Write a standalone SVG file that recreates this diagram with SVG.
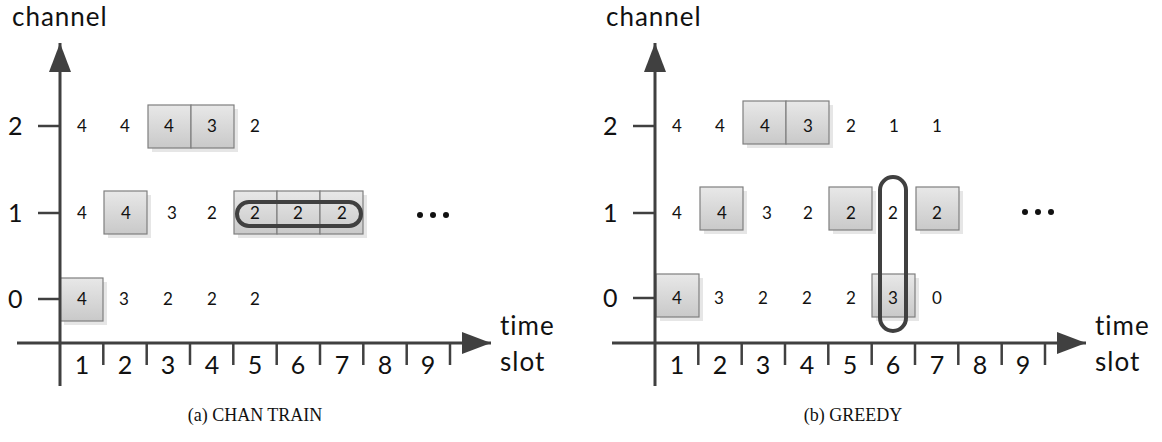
<svg xmlns="http://www.w3.org/2000/svg" width="1162" height="442" viewBox="0 0 1162 442">
<defs>
<linearGradient id="cellg" x1="0" y1="0" x2="0" y2="1">
<stop offset="0" stop-color="#e8e8e8"/>
<stop offset="1" stop-color="#c9c9c9"/>
</linearGradient>
<marker id="arr" markerUnits="userSpaceOnUse" markerWidth="30" markerHeight="22" viewBox="0 0 30 22" refX="29" refY="11" orient="auto">
<path d="M0,0 L29,11 L0,22 Z" fill="#404040"/>
</marker>
<g id="cell">
<rect x="4" y="4" width="43" height="43" fill="#e6e6e6"/>
<rect x="0" y="0" width="43" height="43" fill="url(#cellg)" stroke="#7f7f7f" stroke-width="1.2"/>
</g>
</defs>
<style>
.ax{stroke:#404040;stroke-width:3;fill:none}
.tk{stroke:#404040;stroke-width:2.5;fill:none}
.lab{font-family:Lato,"Liberation Sans",sans-serif;font-size:25px;fill:#111}
.word{font-family:Lato,"Liberation Sans",sans-serif;font-size:26px;letter-spacing:1px;fill:#111}
.tl{font-family:Lato,"Liberation Sans",sans-serif;font-size:25px;fill:#111;text-anchor:middle}
.n{font-family:Lato,"Liberation Sans",sans-serif;font-size:17px;fill:#111;text-anchor:middle}
.cap{font-family:"Liberation Serif","DejaVu Serif",serif;font-size:18px;fill:#111;text-anchor:middle}
.pill{fill:none;stroke:#404040;stroke-width:4}
.dots{fill:#111}
</style>

<!-- Panel A -->
<g id="panelA">
<g id="cellsA">
<use href="#cell" x="148" y="105"/>
<use href="#cell" x="191" y="105"/>
<use href="#cell" x="104" y="191"/>
<use href="#cell" x="234" y="191"/>
<use href="#cell" x="277" y="191"/>
<use href="#cell" x="320" y="191"/>
<use href="#cell" x="60" y="278"/>
</g>
<g id="connectorsA">
<line class="ax" x1="60" y1="386" x2="60" y2="43" marker-end="url(#arr)"/>
<line class="ax" x1="17" y1="343" x2="491" y2="343" marker-end="url(#arr)"/>
<line class="tk" x1="38" y1="126" x2="60" y2="126"/>
<line class="tk" x1="38" y1="213" x2="60" y2="213"/>
<line class="tk" x1="38" y1="299" x2="60" y2="299"/>
<line class="tk" x1="103.3" y1="343" x2="103.3" y2="365"/>
<line class="tk" x1="146.7" y1="343" x2="146.7" y2="365"/>
<line class="tk" x1="190" y1="343" x2="190" y2="365"/>
<line class="tk" x1="233.3" y1="343" x2="233.3" y2="365"/>
<line class="tk" x1="276.7" y1="343" x2="276.7" y2="365"/>
<line class="tk" x1="320" y1="343" x2="320" y2="365"/>
<line class="tk" x1="363.3" y1="343" x2="363.3" y2="365"/>
<line class="tk" x1="406.7" y1="343" x2="406.7" y2="365"/>
<line class="tk" x1="450" y1="343" x2="450" y2="365"/>
<rect class="pill" x="237" y="202" width="124" height="24" rx="12"/>
</g>
<text class="word" x="12" y="26">channel</text>
<text class="lab" x="8" y="135">2</text>
<text class="lab" x="8" y="222">1</text>
<text class="lab" x="8" y="308">0</text>
<text class="word" x="500" y="335">time</text>
<text class="word" x="500" y="371">slot</text>
<g id="tickLabelsA">
<text class="tl" x="82" y="374">1</text>
<text class="tl" x="125" y="374">2</text>
<text class="tl" x="168" y="374">3</text>
<text class="tl" x="212" y="374">4</text>
<text class="tl" x="255" y="374">5</text>
<text class="tl" x="298" y="374">6</text>
<text class="tl" x="342" y="374">7</text>
<text class="tl" x="385" y="374">8</text>
<text class="tl" x="428" y="374">9</text>
</g>
<g id="valuesA">
<text class="n" x="82" y="132">4</text>
<text class="n" x="125" y="132">4</text>
<text class="n" x="169" y="132">4</text>
<text class="n" x="212" y="132">3</text>
<text class="n" x="255" y="132">2</text>
<text class="n" x="82" y="219">4</text>
<text class="n" x="126" y="219">4</text>
<text class="n" x="172" y="219">3</text>
<text class="n" x="212" y="219">2</text>
<text class="n" x="255" y="219">2</text>
<text class="n" x="298" y="219">2</text>
<text class="n" x="342" y="219">2</text>
<text class="n" x="82" y="305">4</text>
<text class="n" x="124" y="305">3</text>
<text class="n" x="168" y="305">2</text>
<text class="n" x="212" y="305">2</text>
<text class="n" x="255" y="305">2</text>
</g>
<g class="dots">
<circle cx="420" cy="215" r="3"/>
<circle cx="433" cy="215" r="3"/>
<circle cx="446" cy="215" r="3"/>
</g>
<text class="cap" x="255" y="421">(a) CHAN TRAIN</text>
</g>

<!-- Panel B -->
<g id="panelB">
<g id="cellsB">
<use href="#cell" x="743" y="101"/>
<use href="#cell" x="786" y="101"/>
<use href="#cell" x="700" y="187"/>
<use href="#cell" x="829" y="187"/>
<use href="#cell" x="916" y="187"/>
<use href="#cell" x="656" y="274"/>
<use href="#cell" x="872" y="274"/>
</g>
<g id="connectorsB">
<line class="ax" x1="655" y1="386" x2="655" y2="43" marker-end="url(#arr)"/>
<line class="ax" x1="612" y1="343" x2="1086" y2="343" marker-end="url(#arr)"/>
<line class="tk" x1="633" y1="126" x2="655" y2="126"/>
<line class="tk" x1="633" y1="213" x2="655" y2="213"/>
<line class="tk" x1="633" y1="298" x2="655" y2="298"/>
<line class="tk" x1="698.3" y1="343" x2="698.3" y2="365"/>
<line class="tk" x1="741.7" y1="343" x2="741.7" y2="365"/>
<line class="tk" x1="785" y1="343" x2="785" y2="365"/>
<line class="tk" x1="828.3" y1="343" x2="828.3" y2="365"/>
<line class="tk" x1="871.7" y1="343" x2="871.7" y2="365"/>
<line class="tk" x1="915" y1="343" x2="915" y2="365"/>
<line class="tk" x1="958.3" y1="343" x2="958.3" y2="365"/>
<line class="tk" x1="1001.7" y1="343" x2="1001.7" y2="365"/>
<line class="tk" x1="1045" y1="343" x2="1045" y2="365"/>
<rect class="pill" x="880" y="177" width="26" height="154" rx="13"/>
</g>
<text class="word" x="606" y="26">channel</text>
<text class="lab" x="603" y="135">2</text>
<text class="lab" x="603" y="222">1</text>
<text class="lab" x="603" y="307">0</text>
<text class="word" x="1095" y="335">time</text>
<text class="word" x="1095" y="371">slot</text>
<g id="tickLabelsB">
<text class="tl" x="677" y="374">1</text>
<text class="tl" x="720" y="374">2</text>
<text class="tl" x="763" y="374">3</text>
<text class="tl" x="807" y="374">4</text>
<text class="tl" x="850" y="374">5</text>
<text class="tl" x="893" y="374">6</text>
<text class="tl" x="937" y="374">7</text>
<text class="tl" x="980" y="374">8</text>
<text class="tl" x="1023" y="374">9</text>
</g>
<g id="valuesB">
<text class="n" x="677" y="132">4</text>
<text class="n" x="720" y="132">4</text>
<text class="n" x="765" y="132">4</text>
<text class="n" x="808" y="132">3</text>
<text class="n" x="851" y="132">2</text>
<text class="n" x="894" y="132">1</text>
<text class="n" x="937" y="132">1</text>
<text class="n" x="677" y="219">4</text>
<text class="n" x="722" y="219">4</text>
<text class="n" x="767" y="219">3</text>
<text class="n" x="808" y="219">2</text>
<text class="n" x="851" y="219">2</text>
<text class="n" x="893" y="219">2</text>
<text class="n" x="937" y="219">2</text>
<text class="n" x="677" y="304">4</text>
<text class="n" x="719" y="304">3</text>
<text class="n" x="763" y="304">2</text>
<text class="n" x="807" y="304">2</text>
<text class="n" x="851" y="304">2</text>
<text class="n" x="893" y="304">3</text>
<text class="n" x="937" y="304">0</text>
</g>
<g class="dots">
<circle cx="1025" cy="212" r="3"/>
<circle cx="1038" cy="212" r="3"/>
<circle cx="1051" cy="212" r="3"/>
</g>
<text class="cap" x="853" y="421">(b) GREEDY</text>
</g>
</svg>
